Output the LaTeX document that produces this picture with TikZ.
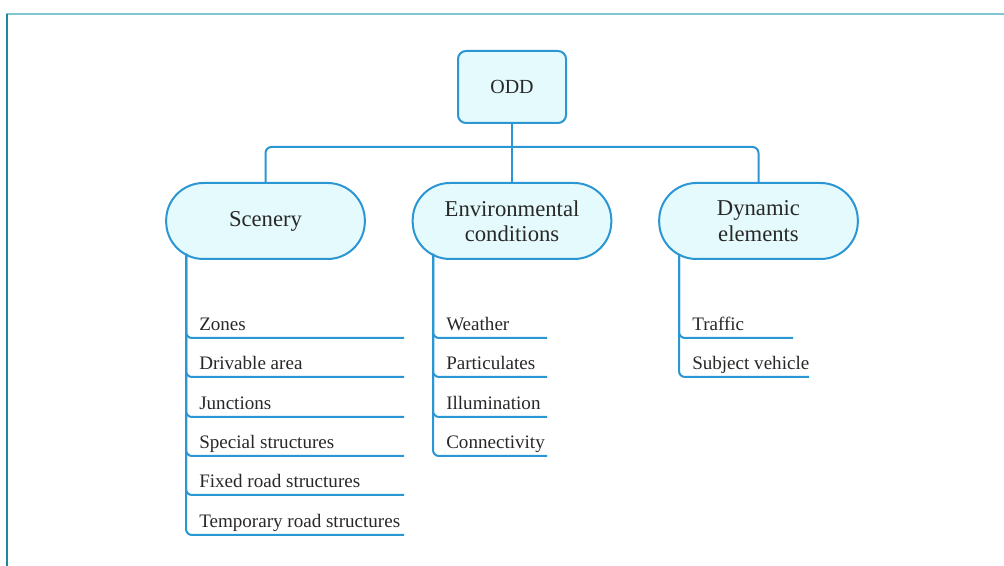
\documentclass[tikz,border=0pt]{standalone}
\usepackage{fontspec}
\setmainfont{Liberation Serif}
\definecolor{linkblue}{RGB}{42,150,212}
\definecolor{boxfill}{RGB}{229,250,252}
\definecolor{txt}{RGB}{40,40,40}
\definecolor{frametopc}{RGB}{128,198,208}
\definecolor{frameleftc}{RGB}{25,140,152}
\begin{document}
\begin{tikzpicture}[x=0.75pt,y=-0.75pt,
  link/.style={draw=linkblue,line width=1.5pt,rounded corners=4.5pt},
  rootbox/.style={draw=linkblue,fill=boxfill,line width=1.5pt,rounded corners=6pt,
    minimum width=81pt,minimum height=54pt,inner sep=0pt,text=txt,font=\fontsize{15}{17}\selectfont},
  catbox/.style={draw=linkblue,fill=boxfill,line width=1.5pt,rounded corners=28pt,
    minimum width=149pt,minimum height=57pt,inner sep=0pt,align=center,text=txt,
    font=\fontsize{17}{19}\selectfont},
  itemtext/.style={anchor=base west,inner sep=0pt,text=txt,font=\fontsize{14.3}{16}\selectfont}]
\useasboundingbox (0,0) rectangle (1004,566);
\draw[frametopc,line width=1.6pt] (6,14) -- (1004,14);
\draw[frameleftc,line width=1.4pt] (7,14) -- (7,566);

\node[rootbox] (odd) at (512,87) {ODD};
\node[catbox] (scen) at (265.5,221) {Scenery};
\node[catbox] (env) at (512,221) {Environmental\\conditions};
\node[catbox] (dyn) at (758.5,221) {Dynamic\\elements};

\coordinate (bus) at (512,147);
\draw[link] (odd.south) -- (env.north);
\draw[link] (bus) -| (scen.north);
\draw[link] (bus) -| (dyn.north);

\coordinate (s0) at (186,254);
\coordinate (e0) at (433,254);
\coordinate (d0) at (679,254);

\foreach \i/\y/\t in {1/338/Zones,2/377/Drivable area,3/417/Junctions,4/456/Special structures,5/495/Fixed road structures,6/535/Temporary road structures}{
  \node[itemtext] (s\i) at (199,\y-7.5) {\t};
  \coordinate (s\i e) at (404,\y);
  \draw[link] (s0) |- (s\i e);
}
\foreach \i/\y/\t in {1/338/Weather,2/377/Particulates,3/417/Illumination,4/456/Connectivity}{
  \node[itemtext] (e\i) at (446,\y-7.5) {\t};
  \coordinate (e\i e) at (547,\y);
  \draw[link] (e0) |- (e\i e);
}
\foreach \i/\y/\x/\t in {1/338/793/Traffic,2/377/809/Subject vehicle}{
  \node[itemtext] (d\i) at (692,\y-7.5) {\t};
  \coordinate (d\i e) at (\x,\y);
  \draw[link] (d0) |- (d\i e);
}
\end{tikzpicture}
\end{document}
